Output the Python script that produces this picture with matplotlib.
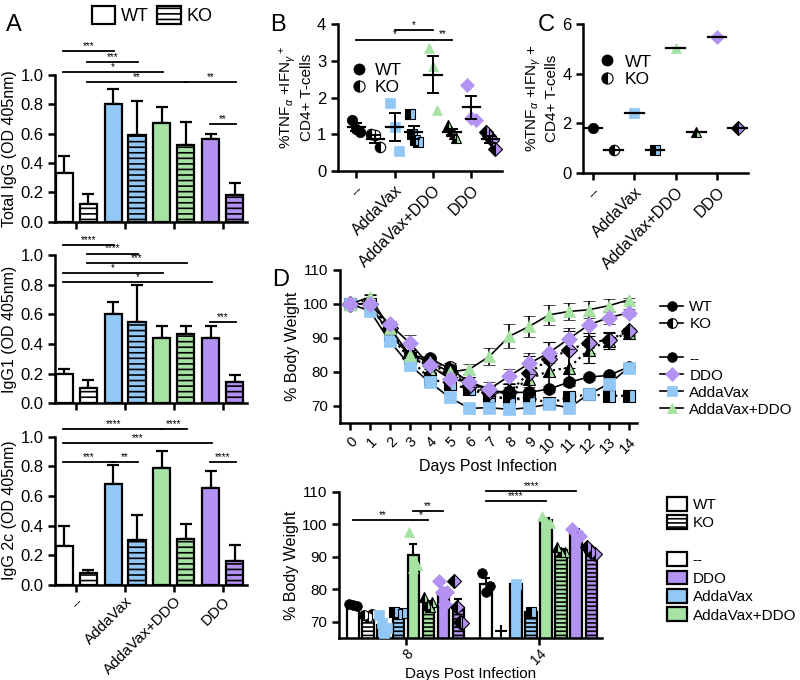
import numpy as np
import matplotlib
matplotlib.use("Agg")
import matplotlib.pyplot as plt
from matplotlib.patches import Patch
from matplotlib.lines import Line2D

plt.rcParams['font.family'] = ['Liberation Sans', 'DejaVu Sans']
plt.rcParams['mathtext.fontset'] = 'custom'
plt.rcParams['mathtext.rm'] = 'Liberation Sans'
plt.rcParams['mathtext.it'] = 'Liberation Sans:italic'
plt.rcParams['hatch.linewidth'] = 1.2
plt.rcParams['axes.linewidth'] = 1.8
plt.rcParams['xtick.major.width'] = 1.8
plt.rcParams['ytick.major.width'] = 1.8
plt.rcParams['xtick.major.size'] = 5
plt.rcParams['ytick.major.size'] = 5

# ---------------- data ----------------
groups = ['--', 'AddaVax', 'AddaVax+DDO', 'DDO']
colors = ['white', '#92C8F6', '#A6E2A2', '#B392F2']
markers = ['o', 's', '^', 'D']

# Panel A (ELISA, mean + SEM)
total_wt = [0.33, 0.80, 0.67, 0.56]
total_wt_err = [0.12, 0.10, 0.11, 0.04]
total_ko = [0.12, 0.59, 0.52, 0.18]
total_ko_err = [0.07, 0.23, 0.16, 0.08]
igg1_wt = [0.20, 0.60, 0.44, 0.44]
igg1_wt_err = [0.03, 0.08, 0.08, 0.08]
igg1_ko = [0.10, 0.55, 0.47, 0.14]
igg1_ko_err = [0.06, 0.25, 0.05, 0.05]
igg2c_wt = [0.26, 0.68, 0.79, 0.65]
igg2c_wt_err = [0.14, 0.13, 0.11, 0.12]
igg2c_ko = [0.08, 0.30, 0.31, 0.16]
igg2c_ko_err = [0.02, 0.17, 0.10, 0.11]

# significance: (bar i, bar j, height, label); bars ordered WT,KO per group
total_sig = [(0, 2, 1.163, '***'), (1, 3, 1.088, '***'), (0, 4, 1.02, '*'),
             (1, 5, 0.952, '**'), (5, 7, 0.952, '**'), (6, 7, 0.667, '**')]
igg1_sig = [(0, 2, 1.07, '****'), (1, 3, 1.01, '****'), (1, 5, 0.945, '***'),
            (0, 4, 0.88, '*'), (0, 6, 0.82, '*'), (6, 7, 0.547, '***')]
igg2c_sig = [(0, 4, 1.05, '****'), (4, 5, 1.05, '****'), (0, 6, 0.955, '***'),
             (0, 2, 0.83, '***'), (2, 3, 0.83, '**'), (6, 7, 0.83, '****')]

# Panel B (individual mice)
b_wt_pts = [[1.4, 1.15, 1.05], [1.85, 1.2, 0.55], [3.35, 2.85, 1.65], [2.35, 1.45, 1.4]]
b_ko_pts = [[1.0, 0.97, 0.65], [1.55, 1.0, 0.85, 0.8], [1.25, 1.1, 1.0, 0.9], [1.05, 0.95, 0.85, 0.6]]
b_sig = [(2, 4, 3.85, '*'), (0, 4, 3.58, '*'), (4, 5, 3.58, '**')]

# Panel C
c_wt = [1.8, 2.4, 5.05, 5.5]
c_ko = [0.93, 0.9, 1.65, 1.82]

# Panel D top (weight curves)
days = list(range(15))
wt_curves = [
    [100, 100, 91, 85, 84, 81, 77, 74.5, 74, 74, 75, 77, 78.5, 79, 81.5],
    [100, 98, 89, 82, 77, 72.5, 69.3, 69.5, 69, 69.5, 70.5, 69.5, 73.5, 76.5, 81.3],
    [100, 102, 93, 85, 83, 80, 80.8, 84.6, 90.5, 93.4, 96.8, 97.8, 98.3, 99.5, 101.2],
    [100, 100, 94, 88.5, 82, 78, 77, 75, 78.8, 82.5, 85.7, 89.8, 93.9, 96, 97.4],
]
wt_curves_err = [
    [0, 0.5, 1, 1, 0.8, 1, 1.5, 1.5, 1.5, 1.5, 1, 1, 0.8, 0.8, 0.5],
    [0, 0.5, 1, 1, 1, 0.8, 0.8, 1, 1.5, 1.5, 0.5, 0.5, 0.5, 0.5, 1],
    [0, 1, 1, 1.5, 1, 1, 1.5, 2.5, 3.5, 3, 3, 2.5, 2.5, 2, 0.5],
    [0, 0.5, 1, 2.5, 1, 1, 1.5, 2, 2, 3, 3, 3, 2.5, 2, 1],
]
ko_curves = [
    [100, 100, 91, 84, 83, 81.5, 76, 73, 72, 72],
    [100, 100, 91, 84, 78, 76.5, 75, 73, 72, 72.5, 70.8, 72.6, 73.4, 73, 73],
    [100, 101.5, 92, 85, 81, 79, 77, 74, 74, 78, 80.3, 81.3, 86.6, 89.2, 91.6],
    [100, 100, 93, 84, 82, 80, 76, 74, 74, 79.8, 83.7, 86.6, 88.6, 89.5, 92],
]
ko_curves_err = [
    [0, 0.5, 1, 1, 1, 1, 1.5, 2, 2, 2],
    [0, 0.5, 1, 1, 1.5, 1.5, 1.5, 2, 2.5, 2, 1, 1, 0.5, 0.5, 0.5],
    [0, 1, 1, 1.5, 1, 1, 1.5, 2, 2.5, 4, 5, 5, 4, 2.5, 1],
    [0, 0.5, 1, 1.5, 1, 1, 1.5, 2, 2.5, 5, 5, 5.5, 3, 2, 1],
]

# Panel D bottom (individual mice at day 8 and 14), order WT/KO per group
d_days = ['8', '14']
d8_pts = [[75.5, 75.0, 74.8], [72, 71.5, 72.3], [72, 69.5, 66.5, 68], [73, 72.5, 72.8],
          [97.5, 86.5, 87.5], [77.5, 75.5, 74.5, 76], [82.5, 79, 75.5, 79], [82.5, 74.5, 70, 69.5]]
d14_pts = [[85, 79, 81], [], [81.5], [73],
           [102.5, 101, 100.5], [93, 91.5, 91.5], [98.5, 96.5], [93, 91.5, 91]]
dead_mark = 67
d_sig = [(0, 4, 101.3, '**', 0), (4, 6, 104.2, '**', 0), (4, 5, 101.3, '*', 0),
         (0, 6, 110.3, '****', 1), (0, 4, 107.1, '****', 1)]

# ---------------- helpers ----------------
def sig(ax, x1, x2, y, text, fs=7):
    ax.plot([x1, x2], [y, y], color='black', lw=1.3, clip_on=False)
    ax.text((x1 + x2) / 2, y, text, ha='center', va='bottom', fontsize=fs,
            clip_on=False, linespacing=0.8)

def clean(ax):
    ax.spines['top'].set_visible(False)
    ax.spines['right'].set_visible(False)

def ko_marker(i):
    return dict(marker=markers[i], fillstyle='left', markerfacecolor='black',
                markerfacecoloralt=colors[i], markeredgecolor='black',
                markeredgewidth=0.8)

def wt_marker(i):
    face = 'black' if i == 0 else colors[i]
    return dict(marker=markers[i], markerfacecolor=face,
                markeredgecolor=face, markeredgewidth=0.5)

def bar_panel(ax, wt, wt_err, ko, ko_err, sigs, ylabel, ticklabels):
    x = np.arange(len(groups))
    off, w = 0.245, 0.35
    ax.bar(x - off, wt, w, color=colors, edgecolor='black', linewidth=1.6, zorder=2)
    ax.bar(x + off, ko, w, color=colors, edgecolor='black', linewidth=1.6,
           hatch='---', zorder=2)
    ax.errorbar(x - off, wt, yerr=[np.zeros(4), wt_err], fmt='none', ecolor='black',
                elinewidth=1.6, capsize=4, capthick=1.6, zorder=1)
    ax.errorbar(x + off, ko, yerr=[np.zeros(4), ko_err], fmt='none', ecolor='black',
                elinewidth=1.6, capsize=4, capthick=1.6, zorder=1)
    pos = [g + s * off for g in range(4) for s in (-1, 1)]
    for i, j, y, t in sigs:
        sig(ax, pos[i] - 0.02, pos[j] + 0.02, y, t)
    ax.set_xlim(-0.43, 3.5)
    ax.set_ylim(0, 1.0)
    ax.set_yticks([0, 0.2, 0.4, 0.6, 0.8, 1.0])
    ax.set_yticklabels(['0.0', '0.2', '0.4', '0.6', '0.8', '1.0'], fontsize=12)
    ax.set_xticks(x)
    if ticklabels:
        ax.set_xticklabels(groups, rotation=45, ha='right', rotation_mode='anchor',
                           fontsize=11)
        ax.tick_params(axis='x', pad=2)
    else:
        ax.set_xticklabels([])
    ax.set_ylabel(ylabel, fontsize=11.5, labelpad=2)
    clean(ax)

fig = plt.figure(figsize=(8, 6.8), dpi=100)

# ---------------- Panel A ----------------
axA1 = fig.add_axes([0.069, 0.674, 0.24, 0.216])
axA2 = fig.add_axes([0.069, 0.407, 0.24, 0.218])
axA3 = fig.add_axes([0.069, 0.140, 0.24, 0.218])
bar_panel(axA1, total_wt, total_wt_err, total_ko, total_ko_err, total_sig,
          'Total IgG (OD 405nm)', False)
bar_panel(axA2, igg1_wt, igg1_wt_err, igg1_ko, igg1_ko_err, igg1_sig,
          'IgG1 (OD 405nm)', False)
bar_panel(axA3, igg2c_wt, igg2c_wt_err, igg2c_ko, igg2c_ko_err, igg2c_sig,
          'IgG 2c (OD 405nm)', True)
fig.legend(handles=[Patch(facecolor='white', edgecolor='black', lw=1.6, label='WT'),
                    Patch(facecolor='white', edgecolor='black', lw=1.6, hatch='---', label='KO')],
           loc='center', bbox_to_anchor=(0.19, 0.977), ncol=2, frameon=False,
           fontsize=13, handlelength=1.3, handleheight=1.2, columnspacing=0.5,
           handletextpad=0.3)

# ---------------- Panel B ----------------
axB = fig.add_axes([0.4225, 0.7485, 0.205, 0.216])
for i in range(4):
    for k, (pts, mk) in enumerate(((b_wt_pts[i], wt_marker(i)), (b_ko_pts[i], ko_marker(i)))):
        xc = 2 * i + k
        jit = np.linspace(-0.22, 0.22, len(pts))
        axB.plot(xc + jit, pts, linestyle='none', markersize=7.5, zorder=2, **mk)
        m = np.mean(pts)
        se = np.std(pts, ddof=1) / np.sqrt(len(pts))
        axB.plot([xc - 0.45, xc + 0.45], [m, m], color='black', lw=1.6, zorder=3)
        axB.errorbar(xc, m, yerr=se, fmt='none', ecolor='black', elinewidth=1.4,
                     capsize=4, capthick=1.4, zorder=3)
for i, j, y, t in b_sig:
    sig(axB, i, j, y, t)
axB.set_xlim(-0.95, 7.6)
axB.set_ylim(0, 4)
axB.set_yticks([0, 1, 2, 3, 4])
axB.tick_params(labelsize=12)
axB.set_xticks([0, 2, 4, 6])
axB.set_xticklabels(groups, rotation=45, ha='right', rotation_mode='anchor', fontsize=11.5)
axB.set_ylabel('%TNF$_\\alpha$ +IFN$_\\gamma$$^+$\nCD4+ T-cells', fontsize=11, labelpad=2)
axB.legend(handles=[Line2D([], [], linestyle='none', markersize=8, **wt_marker(0)),
                    Line2D([], [], linestyle='none', markersize=8, **ko_marker(0))],
           labels=['WT', 'KO'], loc='upper left', bbox_to_anchor=(0.0, 0.82),
           frameon=False, fontsize=12.5, handlelength=1.0, handletextpad=0.4,
           labelspacing=0.1, borderpad=0.2)
clean(axB)

# ---------------- Panel C ----------------
axC = fig.add_axes([0.729, 0.746, 0.206, 0.218])
for i in range(4):
    for k, (val, mk) in enumerate(((c_wt[i], wt_marker(i)), (c_ko[i], ko_marker(i)))):
        xc = 2 * i + k
        axC.plot([xc], [val], linestyle='none', markersize=7.5, zorder=2, **mk)
        axC.plot([xc - 0.45, xc + 0.45], [val, val], color='black', lw=1.6, zorder=3)
axC.set_xlim(-0.48, 7.5)
axC.set_ylim(0, 6)
axC.set_yticks([0, 2, 4, 6])
axC.tick_params(labelsize=12)
axC.set_xticks([0, 2, 4, 6])
axC.set_xticklabels(groups, rotation=45, ha='right', rotation_mode='anchor', fontsize=11.5)
axC.set_ylabel('%TNF$_\\alpha$ +IFN$_\\gamma$ +\nCD4+ T-cells', fontsize=11, labelpad=2)
axC.legend(handles=[Line2D([], [], linestyle='none', markersize=8, **wt_marker(0)),
                    Line2D([], [], linestyle='none', markersize=8, **ko_marker(0))],
           labels=['WT', 'KO'], loc='upper left', bbox_to_anchor=(0.02, 0.88),
           frameon=False, fontsize=12.5, handlelength=1.0, handletextpad=0.5,
           labelspacing=0.15, borderpad=0.2)
clean(axC)

# ---------------- Panel D top ----------------
axD1 = fig.add_axes([0.425, 0.378, 0.371, 0.225])
for i in range(4):
    y = ko_curves[i]
    axD1.errorbar(days[:len(y)], y, yerr=ko_curves_err[i], color='black', ls=':',
                  lw=1.6, capsize=4, elinewidth=1.2, markersize=8.5, zorder=2,
                  **ko_marker(i))
for i in range(4):
    y = wt_curves[i]
    axD1.errorbar(days, y, yerr=wt_curves_err[i], color='black', ls='-', lw=1.2,
                  capsize=4, elinewidth=1.2, markersize=8.5, zorder=3, **wt_marker(i))
axD1.set_xlim(-0.5, 14.4)
axD1.set_ylim(65, 110)
axD1.set_yticks([70, 80, 90, 100, 110])
axD1.set_xticks(days)
axD1.set_xticklabels([str(d) for d in days], rotation=45, ha='right',
                     rotation_mode='anchor', fontsize=10.5)
axD1.tick_params(axis='y', labelsize=11)
axD1.set_xlabel('Days Post Infection', fontsize=11.5, labelpad=2)
axD1.set_ylabel('% Body Weight', fontsize=11.5, labelpad=2)
clean(axD1)
blank = Line2D([], [], linestyle='none')
d1_handles = [Line2D([], [], color='black', lw=1.2, markersize=7, **wt_marker(0)),
              Line2D([], [], color='black', lw=1.2, markersize=7,
                     **dict(ko_marker(0), markerfacecoloralt='white')),
              blank]
d1_handles += [Line2D([], [], color='black', lw=1.2, markersize=7, **wt_marker(i))
               for i in [0, 3, 1, 2]]
fig.legend(handles=d1_handles,
           labels=['WT', 'KO', '', groups[0], groups[3], groups[1], groups[2]],
           loc='upper left', bbox_to_anchor=(0.812, 0.574), frameon=False,
           fontsize=11, handlelength=1.5, handletextpad=0.4, labelspacing=0.2,
           borderpad=0.2)

# ---------------- Panel D bottom ----------------
axD2 = fig.add_axes([0.424, 0.0618, 0.329, 0.215])
bw, bs = 0.085, 0.113
for g, day_pts in enumerate([d8_pts, d14_pts]):
    for b, pts in enumerate(day_pts):
        i, ko = b // 2, b % 2
        xc = g + (b - 3.5) * bs
        if len(pts) == 0:
            axD2.plot([xc], [dead_mark], marker='+', color='black', markersize=8, mew=1.5)
            continue
        m = np.mean(pts)
        se = np.std(pts, ddof=1) / np.sqrt(len(pts)) if len(pts) > 1 else 0
        axD2.bar(xc, m, bw, color=colors[i], edgecolor='black', linewidth=1.6,
                 hatch='----' if ko else None, zorder=2)
        if se > 0:
            axD2.errorbar(xc, m, yerr=[[0], [se]], fmt='none', ecolor='black',
                          elinewidth=1.5, capsize=3, capthick=1.5, zorder=1)
        mk = ko_marker(i) if ko else wt_marker(i)
        jit = np.linspace(-0.03, 0.03, len(pts)) if len(pts) > 1 else np.zeros(1)
        axD2.plot(xc + jit, pts, linestyle='none', markersize=7, zorder=4,
                  clip_on=False, **mk)
for i, j, y, t, g in d_sig:
    sig(axD2, g + (i - 3.5) * bs, g + (j - 3.5) * bs, y, t)
axD2.set_xlim(-0.5, 1.48)
axD2.set_ylim(65, 110)
axD2.set_yticks([70, 80, 90, 100, 110])
axD2.tick_params(axis='y', labelsize=11)
axD2.tick_params(axis='x', pad=1)
axD2.set_xticks([0, 1])
axD2.set_xticklabels(d_days, rotation=45, ha='right', rotation_mode='anchor', fontsize=10)
axD2.set_xlabel('Days Post Infection', fontsize=11, labelpad=0)
axD2.set_ylabel('% Body Weight', fontsize=11.5, labelpad=2)
clean(axD2)
d2_handles = [Patch(facecolor='white', edgecolor='black', lw=1.6),
              Patch(facecolor='white', edgecolor='black', lw=1.6, hatch='----'),
              Patch(visible=False)]
d2_handles += [Patch(facecolor=colors[i], edgecolor='black', lw=1.6) for i in [0, 3, 1, 2]]
fig.legend(handles=d2_handles,
           labels=['WT', 'KO', '', groups[0], groups[3], groups[1], groups[2]],
           loc='upper left', bbox_to_anchor=(0.82, 0.285), frameon=False,
           fontsize=11, handlelength=1.3, handleheight=1.0, handletextpad=0.4,
           labelspacing=0.22, borderpad=0.2)

# panel letters
for s, (x, y) in zip('ABCD', [(0.008, 0.955), (0.338, 0.955), (0.672, 0.955),
                              (0.34, 0.58)]):
    fig.text(x, y, s, fontsize=17)

fig.savefig('out.png', dpi=100)
